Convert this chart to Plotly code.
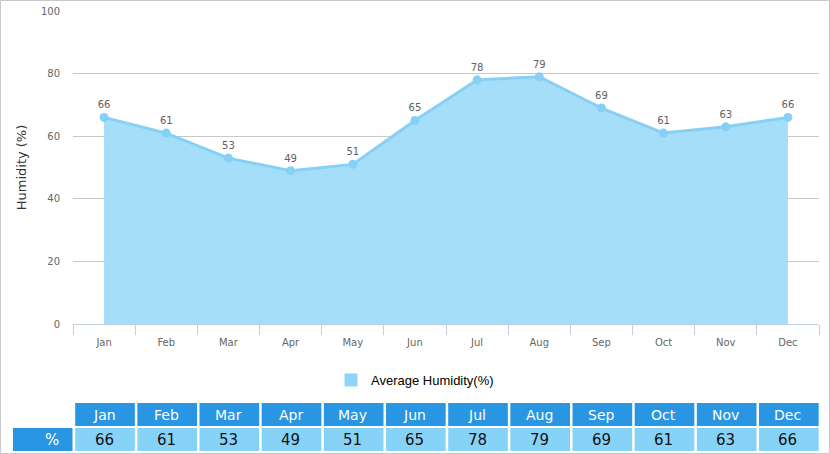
import plotly.graph_objects as go

months = ["Jan", "Feb", "Mar", "Apr", "May", "Jun", "Jul", "Aug", "Sep", "Oct", "Nov", "Dec"]
humidity = [66, 61, 53, 49, 51, 65, 78, 79, 69, 61, 63, 66]
y_ticks = [0, 20, 40, 60, 80, 100]
series_name = "Average Humidity(%)"
row_label = "%"

W, H = 830, 454
L, R, T, B = 73, 11, 11, 130
pw, ph = W - L - R, H - T - B

def py(px):  # pixel y -> paper y
    return (H - B - px) / ph

def px_(x):  # pixel x -> paper x
    return (x - L) / pw

fig = go.Figure()
fig.add_trace(go.Scatter(
    x=months, y=humidity, mode="lines+markers+text",
    fill="tozeroy", fillcolor="#A5DEF9",
    line=dict(color="#86D0F5", width=3),
    marker=dict(color="#86D0F5", size=9),
    text=[str(v) for v in humidity], textposition="top center",
    textfont=dict(family="DejaVu Sans", size=10, color="#606060"),
    showlegend=False, cliponaxis=False,
))
fig.add_trace(go.Scatter(
    x=[None], y=[None], mode="markers", name=series_name,
    marker=dict(symbol="square", size=13, color="#8DD4F8"),
))

shapes = []
annotations = []
hdr_y0, hdr_y1 = py(426), py(403)
dat_y0, dat_y1 = py(451), py(428)
for i, (m, v) in enumerate(zip(months, humidity)):
    x0, x1 = i - 0.5 + 0.035, i + 0.5 - 0.005
    shapes.append(dict(type="rect", xref="x", yref="paper", x0=x0, x1=x1, y0=hdr_y0, y1=hdr_y1,
                       fillcolor="#2996E3", line=dict(width=0), layer="above"))
    shapes.append(dict(type="rect", xref="x", yref="paper", x0=x0, x1=x1, y0=dat_y0, y1=dat_y1,
                       fillcolor="#87D3F8", line=dict(width=0), layer="above"))
    annotations.append(dict(x=m, xref="x", y=(hdr_y0 + hdr_y1) / 2, yref="paper", text=m,
                            showarrow=False, font=dict(family="DejaVu Sans", size=14, color="white"),
                            yanchor="middle"))
    annotations.append(dict(x=m, xref="x", y=(dat_y0 + dat_y1) / 2, yref="paper", text=str(v),
                            showarrow=False, font=dict(family="DejaVu Sans", size=15, color="#111111"),
                            yanchor="middle"))
# label column
shapes.append(dict(type="rect", xref="paper", yref="paper", x0=px_(13), x1=px_(72.5), y0=dat_y0, y1=dat_y1,
                   fillcolor="#2996E3", line=dict(width=0)))
annotations.append(dict(x=px_(43), xref="paper", y=(dat_y0 + dat_y1) / 2, yref="paper", text=row_label,
                        showarrow=False, font=dict(family="DejaVu Sans", size=15, color="white"),
                        yanchor="middle"))
# page border
shapes.append(dict(type="rect", xref="paper", yref="paper",
                   x0=px_(0.5), x1=px_(829.5), y0=py(453.5), y1=py(0.5),
                   line=dict(color="#C8C8C8", width=1), fillcolor="rgba(0,0,0,0)"))

fig.update_layout(
    width=W, height=H,
    margin=dict(l=L, r=R, t=T, b=B, pad=0, autoexpand=False),
    paper_bgcolor="white", plot_bgcolor="white",
    font=dict(family="DejaVu Sans", color="#666666"),
    xaxis=dict(
        type="category", range=[-0.5, 11.5], tickson="boundaries", automargin=False,
        ticks="outside", ticklen=10, tickcolor="#C0D0E0", tickwidth=1,
        showline=True, linecolor="#C0D0E0", linewidth=1, ticklabelstandoff=9,
        showgrid=False, zeroline=False,
        tickfont=dict(family="DejaVu Sans", size=10, color="#666666"),
    ),
    yaxis=dict(
        range=[0, 100], tickvals=y_ticks, showgrid=True, gridcolor="#C8C8C8", gridwidth=1,
        zeroline=False, showline=False, ticks="", ticklabelstandoff=12, automargin=False,
        tickfont=dict(family="DejaVu Sans", size=10, color="#666666"),
        title=dict(text="Humidity (%)", font=dict(family="DejaVu Sans", size=13, color="#333333"), standoff=11),
    ),
    legend=dict(orientation="h", xref="container", yref="container", x=0.5, xanchor="center",
                y=1 - 380 / H, yanchor="middle",
                font=dict(family="Liberation Sans", size=13, color="#000000"),
                itemwidth=30),
    shapes=shapes, annotations=annotations,
)

fig.write_html("out.html", config={"displayModeBar": False},
               post_script="document.body.style.margin='0';document.body.style.overflow='hidden';")
